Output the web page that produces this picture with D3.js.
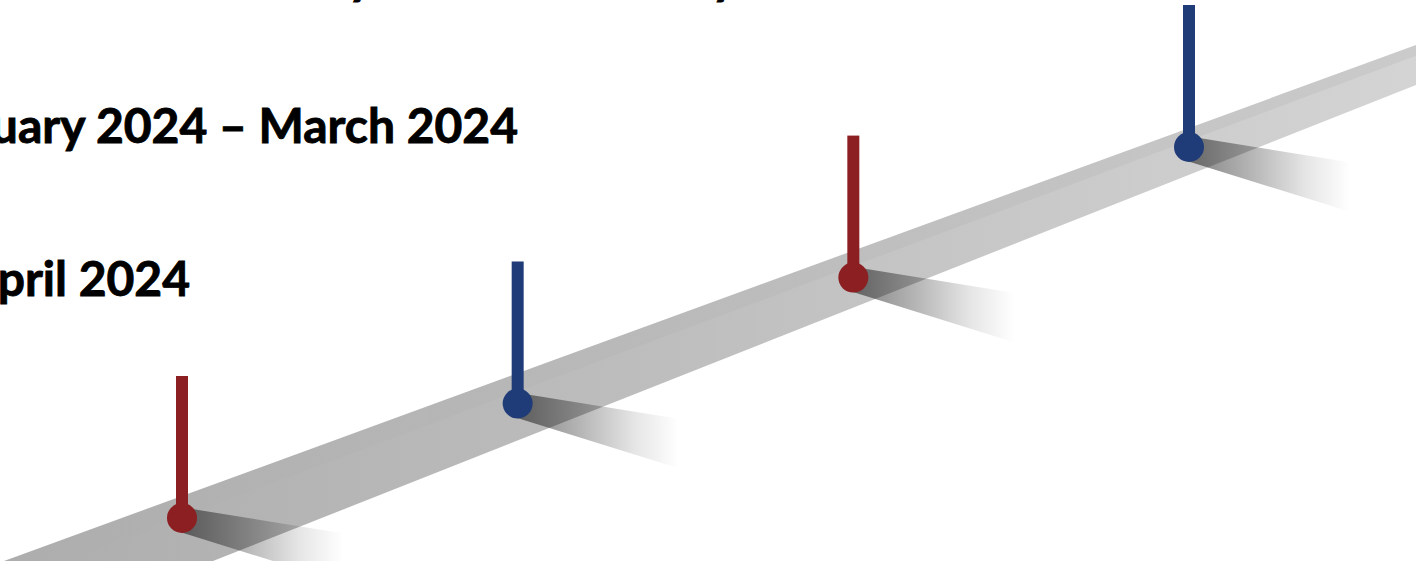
<!DOCTYPE html>
<html lang="en">
<head>
    <meta charset="UTF-8">
    <title>Timeline</title>
    <script src="https://d3js.org/d3.v7.min.js"></script>
    <style>
        body {
            margin: 0;
            background: #fff;
            overflow: hidden;
        }
        svg {
            display: block;
        }
        .label {
            font-family: Lato, "Open Sans", sans-serif;
            font-weight: 700;
            font-size: 48px;
            fill: #000;
            stroke: #000;
            stroke-width: 0.9px;
        }
    </style>
</head>
<body>

<svg id="timeline"></svg>

<script>
    // milestones along the road (step index) and their colour group
    const milestones = ["January 2024", "February 2024", "March 2024", "April 2024"];
    const steps = [0, 1, 2, 3];
    const groups = ["red", "blue", "red", "blue"];

    // text block on the left (cut off by the frame)
    const labelLines = [
        "Survey Phase 1: January 2024 \u2013 February 2024",
        "Phase 2: February 2024 \u2013 March 2024",
        "Phase 3: March 2024 \u2013 April 2024"
    ];

    const width = 1416;
    const height = 561;

    const svg = d3.select("#timeline")
        .attr("width", width)
        .attr("height", height);

    const x = d3.scaleLinear().domain([0, 3]).range([182, 1189]);
    // slight perspective: points climb a little faster further away
    const y = d3.scalePow().exponent(1.07).domain([0, 3]).range([518, 147]);
    const color = d3.scaleOrdinal().domain(["red", "blue"]).range(["#8b1f22", "#1f3c78"]);

    const stemHeight = 142;
    const stemWidth = 12;
    const radius = 15;

    // road edges
    const roadTop = d3.scaleLinear().domain([15, 1416]).range([557, 45]);
    const roadBottom = d3.scaleLinear().domain([213, 1416]).range([561, 85]);

    const defs = svg.append("defs");

    const roadGrad = defs.append("linearGradient")
        .attr("id", "roadGrad")
        .attr("gradientUnits", "userSpaceOnUse")
        .attr("x1", 0).attr("y1", 0)
        .attr("x2", width).attr("y2", 0);
    roadGrad.append("stop").attr("offset", 0).attr("stop-color", "#adadad");
    roadGrad.append("stop").attr("offset", 0.5).attr("stop-color", "#bfbfbf");
    roadGrad.append("stop").attr("offset", 1).attr("stop-color", "#d4d4d4");

    const stripGrad = defs.append("linearGradient")
        .attr("id", "stripGrad")
        .attr("gradientUnits", "userSpaceOnUse")
        .attr("x1", 0).attr("y1", 0)
        .attr("x2", width).attr("y2", 0);
    stripGrad.append("stop").attr("offset", 0).attr("stop-color", "#000").attr("stop-opacity", 0);
    stripGrad.append("stop").attr("offset", 1).attr("stop-color", "#000").attr("stop-opacity", 0.045);

    const shadowGrad = defs.append("linearGradient")
        .attr("id", "shadowGrad")
        .attr("x1", 0).attr("y1", 0)
        .attr("x2", 1).attr("y2", 0);
    shadowGrad.append("stop").attr("offset", 0).attr("stop-color", "#000").attr("stop-opacity", 0.5);
    shadowGrad.append("stop").attr("offset", 0.35).attr("stop-color", "#000").attr("stop-opacity", 0.28);
    shadowGrad.append("stop").attr("offset", 0.62).attr("stop-color", "#000").attr("stop-opacity", 0.1);
    shadowGrad.append("stop").attr("offset", 0.85).attr("stop-color", "#000").attr("stop-opacity", 0);

    // road
    const xs = [0, width];
    svg.append("path")
        .attr("d", d3.line()([
            [xs[0], roadTop(xs[0])], [xs[1], roadTop(xs[1])],
            [xs[1], roadBottom(xs[1])], [xs[0], roadBottom(xs[0])]
        ]) + "Z")
        .attr("fill", "url(#roadGrad)");

    // slightly darker upper face of the road
    const inner = v => roadTop(v) + (roadBottom(v) - roadTop(v)) * 0.27;
    svg.append("path")
        .attr("d", d3.line()([
            [xs[0], roadTop(xs[0])], [xs[1], roadTop(xs[1])],
            [xs[1], inner(xs[1])], [xs[0], inner(xs[0])]
        ]) + "Z")
        .attr("fill", "url(#stripGrad)");

    const pins = svg.selectAll(".pin")
        .data(steps.map((s, i) => ({step: s, name: milestones[i], group: groups[i]})))
        .enter()
        .append("g")
        .attr("class", "pin")
        .attr("transform", d => `translate(${x(d.step)},${y(d.step)})`);

    // cast shadow to the lower right
    pins.append("path")
        .attr("d", "M4,-10L190,20L165,66L-2,14Z")
        .attr("fill", "url(#shadowGrad)");

    pins.append("rect")
        .attr("x", -stemWidth / 2)
        .attr("y", -stemHeight)
        .attr("width", stemWidth)
        .attr("height", stemHeight)
        .attr("fill", d => color(d.group));

    pins.append("circle")
        .attr("r", radius)
        .attr("fill", d => color(d.group));

    // labels
    const baselines = [-6, 143, 296];

    const first = svg.append("text")
        .attr("class", "label")
        .attr("y", baselines[0])
        .text(labelLines[0]);
    // put the "y" of January where the reference shows it
    const jIdx = labelLines[0].indexOf("January") + 6;
    first.attr("x", 348 - first.node().getSubStringLength(0, jIdx));

    svg.append("text")
        .attr("class", "label")
        .attr("text-anchor", "end")
        .attr("x", 518)
        .attr("y", baselines[1])
        .text(labelLines[1]);

    svg.append("text")
        .attr("class", "label")
        .attr("text-anchor", "end")
        .attr("x", 190)
        .attr("y", baselines[2])
        .text(labelLines[2]);
</script>

</body>
</html>
